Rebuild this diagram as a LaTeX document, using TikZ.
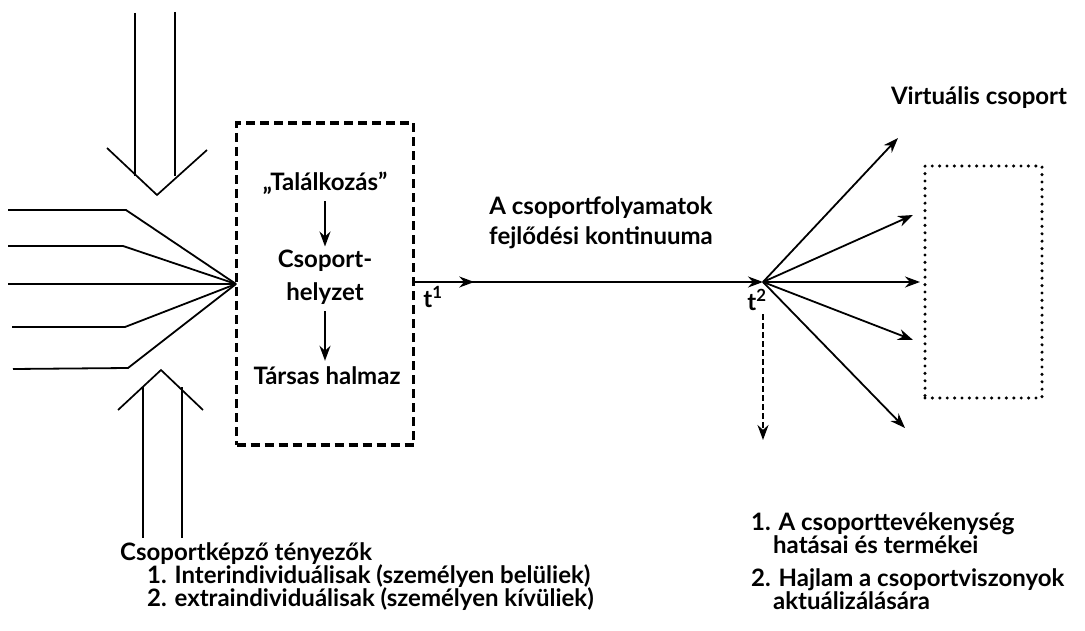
\documentclass[tikz,border=0pt]{standalone}
\usepackage{fontspec}
\setmainfont{Lato}
\usetikzlibrary{arrows.meta,decorations.markings}

\begin{document}
\begin{tikzpicture}[
		x=1pt, y=-1pt,
		every node/.style={font=\bfseries\fontsize{24}{23}\selectfont, inner sep=0pt},
		line/.style={line width=1.8pt},
		tip/.style={line width=1.8pt, -{Stealth[length=15pt, width=11pt]}},
		bigarrow/.style={line width=1.7pt},
		midtip/.style={postaction={decorate}, decoration={markings,
			mark=at position 0.17 with {\arrow{Stealth[length=15pt, width=11pt]}}}},
		formbox/.style={draw, line width=3.2pt, dash pattern=on 9pt off 5pt},
		virtbox/.style={draw, line width=3.4pt, line cap=round, dash pattern=on 0pt off 7.4pt}
	]
	\useasboundingbox (0,0) rectangle (1085,631);

	% beérkező tényezők
	\coordinate (meet) at (236,284);
	\draw[line] (8,210) -- (126,210) -- (meet);
	\draw[line] (8,246) -- (123,246) -- (meet);
	\draw[line] (8,284) -- (meet);
	\draw[line] (12,327) -- (125,327) -- (meet);
	\draw[line] (13,369) -- (128,368) -- (meet);

	% nagy nyilak
	\coordinate (topv) at (157,195);
	\coordinate (botv) at (161,370);
	\draw[bigarrow] (135,13) -- (135,176);
	\draw[bigarrow] (175,12) -- (175,176);
	\draw[bigarrow] (107,148) -- (topv) -- (207,150);
	\draw[bigarrow] (143,387) -- (143,538);
	\draw[bigarrow] (182,387) -- (182,538);
	\draw[bigarrow] (118,410) -- (botv) -- (203,410);

	% csoporthelyzet
	\node[formbox, minimum width=177pt, minimum height=322pt] (box) at (325,284) {};
	\node (tal) at (325,183) {„Találkozás”};
	\node[align=center] (helyz) at (325,277) {Csoport-\\[10pt]helyzet};
	\node (halm) at (327,376) {Társas halmaz};
	\draw[tip, shorten <=7pt, shorten >=3pt] (tal.south -| helyz.north) -- (helyz.north);
	\draw[tip, shorten <=7pt, shorten >=6pt] (helyz.south) -- (halm.north -| helyz.south);

	% kontinuum
	\coordinate (t2pt) at (763,282);
	\coordinate (t1pt) at (box.east |- t2pt);
	\draw[tip, midtip] (t1pt) -- (t2pt);
	\node (t1) at (433,297) {t\textsuperscript{1}};
	\node (t2) at (757,300) {t\textsuperscript{2}};
	\node[align=center] (kont) at (601,223) {A csoportfolyamatok\\[7pt]fejlődési kontinuuma};

	% virtuális csoport
	\node[virtbox, minimum width=117pt, minimum height=232pt] (virt) at (983.5,282) {};
	\node (vlab) at (979,98) {Virtuális csoport};
	\foreach \ex/\ey in {898/138, 913/215, 920/282, 913/340, 905/428}
		\draw[tip] (t2pt) -- (\ex,\ey);
	\coordinate (down) at (763,440);
	\draw[tip, dash pattern=on 6pt off 3pt] (763,314) -- (down);

	% eredmények
	\node[anchor=west, align=left] (res) at (751,561) {1. A csoporttevékenység\\
		\hspace*{22pt}hatásai és termékei\\[10pt]
		2. Hajlam a csoportviszonyok\\
		\hspace*{22pt}aktuálizálására};

	% csoportképző tényezők
	\node[anchor=west, align=left] (fact) at (120,577) {Csoportképző tényezők\\
		\hspace*{27pt}1. Interindividuálisak (személyen belüliek)\\
		\hspace*{27pt}2. extraindividuálisak (személyen kívüliek)};

\end{tikzpicture}
\end{document}
